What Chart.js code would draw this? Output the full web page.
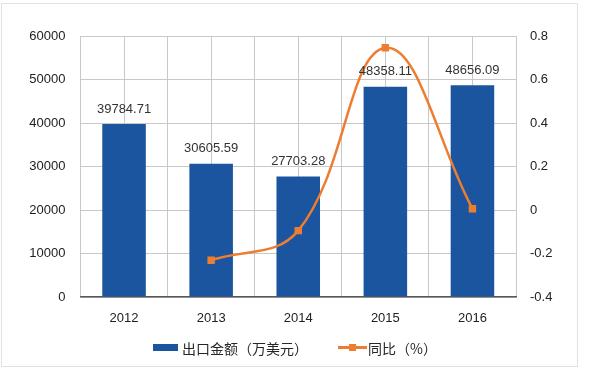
<!DOCTYPE html>
<html lang="zh">
<head>
<meta charset="UTF-8">
<title>出口金额</title>
<script src="https://cdn.jsdelivr.net/npm/chart.js"></script>
<style>
    body { margin: 0; background: #fff; }
    #wrap { position: relative; width: 600px; height: 369px; }
    #frame { position: absolute; left: 1px; top: 3px; width: 575px; height: 362px; border: 1px solid #e2e2e2; pointer-events: none; }
    .leg { position: absolute; top: 338px; font: 14px "Noto Sans CJK SC", sans-serif; color: #262626; line-height: 20px; }
    .sw { position: absolute; }
</style>
</head>
<body>
<div id="wrap">
    <canvas id="c" width="600" height="369"></canvas>
    <div id="frame"></div>
    <div class="sw" style="left:153px;top:344px;width:25px;height:7px;background:#1c559f"></div>
    <div class="leg" style="left:182px">出口金额（万美元）</div>
    <div class="sw" style="left:338px;top:346px;width:29px;height:3px;background:#ed7d31"></div>
    <div class="sw" style="left:349px;top:344px;width:7px;height:7px;background:#ed7d31"></div>
    <div class="leg" style="left:368px">同比（%）</div>
</div>
<script>
    const years = ['2012', '2013', '2014', '2015', '2016'];
    const exportValue = [39784.71, 30605.59, 27703.28, 48358.11, 48656.09];
    const yoy = [null, -0.2307, -0.0948, 0.7456, 0.0062];

    const FONT = "'Liberation Sans', sans-serif";

    // labels above the bars
    const barLabels = {
        id: 'barLabels',
        afterDatasetsDraw(chart) {
            const ctx = chart.ctx;
            const meta = chart.getDatasetMeta(0);
            ctx.save();
            ctx.font = '13px ' + FONT;
            ctx.fillStyle = '#333';
            ctx.textAlign = 'center';
            ctx.textBaseline = 'middle';
            meta.data.forEach((bar, i) => {
                ctx.fillText(exportValue[i].toFixed(2), bar.x, bar.y - 15);
            });
            ctx.restore();
        }
    };

    new Chart(document.getElementById('c'), {
        data: {
            labels: years,
            datasets: [
                {
                    type: 'bar', label: '出口金额（万美元）', data: exportValue,
                    backgroundColor: '#1c559f', yAxisID: 'y', order: 2,
                    categoryPercentage: 1, barPercentage: 0.5
                },
                {
                    type: 'line', label: '同比（%）', data: yoy,
                    borderColor: '#ed7d31', backgroundColor: '#ed7d31', borderWidth: 2.5,
                    tension: 0.4, pointStyle: 'rect', pointRadius: 3.5,
                    yAxisID: 'y1', order: 1
                }
            ]
        },
        options: {
            responsive: false,
            animation: false,
            layout: { padding: { top: 36, left: 0, right: 0, bottom: 0 } },
            plugins: { legend: { display: false }, tooltip: { enabled: false } },
            scales: {
                x: {
                    offset: true,
                    grid: { offset: true, color: '#c8c8c8', drawTicks: false },
                    border: { color: '#595959', width: 1.5 },
                    ticks: { color: '#222', font: { family: FONT, size: 13 }, padding: 14 },
                    afterFit(s) { s.height = 72; }
                },
                x2: {
                    position: 'bottom', offset: true,
                    grid: { offset: false, color: '#c8c8c8', drawTicks: false },
                    border: { display: false },
                    ticks: { display: false },
                    afterFit(s) { s.height = 0; }
                },
                y: {
                    position: 'left', min: 0, max: 60000,
                    ticks: { stepSize: 10000, color: '#222', font: { family: FONT, size: 13 }, padding: 15, callback: v => v },
                    grid: { color: '#c8c8c8', drawTicks: false },
                    border: { display: false },
                    afterFit(s) { s.width = 80.5; }
                },
                y1: {
                    position: 'right', min: -0.4, max: 0.8,
                    ticks: { stepSize: 0.2, color: '#222', font: { family: FONT, size: 13 }, padding: 14,
                        callback: v => Math.round(v * 10) / 10 },
                    grid: { display: false, drawTicks: false },
                    border: { display: false },
                    afterFit(s) { s.width = 84; }
                }
            }
        },
        plugins: [barLabels]
    });
</script>
</body>
</html>
